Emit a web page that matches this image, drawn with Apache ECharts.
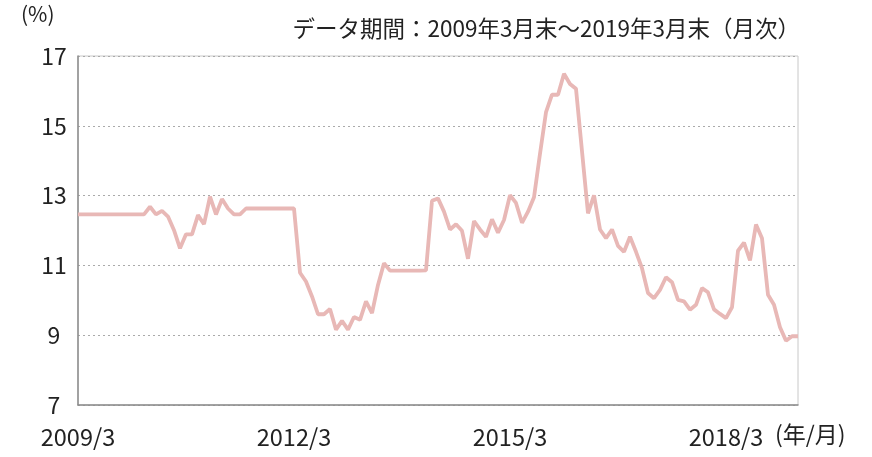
<!DOCTYPE html>
<html>
<head>
<meta charset="utf-8">
<script src="https://cdn.jsdelivr.net/npm/echarts@6/dist/echarts.min.js"></script>
<style>
  html, body { margin: 0; padding: 0; background: #fff; }
  #chart { width: 872px; height: 457px; }
</style>
</head>
<body>
<div id="chart"></div>
<script>
// 月次データ 2009/3 ～ 2019/3
const startYear = 2009;
const startMonth = 3;
const values = [
  12.46, 12.46, 12.46, 12.46, 12.46, 12.46, 12.46, 12.46, 12.46, 12.46, 12.46, 12.46, // 2009/3-
  12.68, 12.46, 12.56, 12.40, 12.01, 11.49, 11.89, 11.89, 12.44, 12.18, 12.97, 12.46, // 2010/3-
  12.90, 12.63, 12.46, 12.46, 12.63, 12.63, 12.63, 12.63, 12.63, 12.63, 12.63, 12.63, // 2011/3-
  12.63, 10.79, 10.54, 10.11, 9.60, 9.60, 9.75, 9.16, 9.41, 9.16, 9.52, 9.44,        // 2012/3-
  9.97, 9.63, 10.44, 11.06, 10.85, 10.85, 10.85, 10.85, 10.85, 10.85, 10.86, 12.85,  // 2013/3-
  12.92, 12.54, 12.03, 12.18, 11.99, 11.19, 12.27, 12.03, 11.82, 12.32, 11.94, 12.30, // 2014/3-
  13.01, 12.79, 12.22, 12.54, 12.95, 14.20, 15.39, 15.89, 15.89, 16.49, 16.20, 16.06, // 2015/3-
  14.27, 12.49, 13.01, 12.03, 11.78, 12.03, 11.56, 11.39, 11.82, 11.39, 10.92, 10.21, // 2016/3-
  10.06, 10.30, 10.66, 10.52, 10.01, 9.97, 9.73, 9.87, 10.35, 10.23, 9.74, 9.61,     // 2017/3-
  9.49, 9.80, 11.42, 11.65, 11.14, 12.17, 11.78, 10.16, 9.87, 9.23, 8.84, 8.97,       // 2018/3-
  8.97                                                                                // 2019/3
];
const tickLabels = ['2009/3', '2012/3', '2015/3', '2018/3'];
const yTicks = { min: 7, max: 17, interval: 2 };

const months = values.map((_, i) => {
  const m = startMonth - 1 + i;
  return (startYear + Math.floor(m / 12)) + '/' + (m % 12 + 1);
});

const font = '"Noto Sans CJK JP", "Noto Sans", sans-serif';
const chart = echarts.init(document.getElementById('chart'));

chart.setOption({
  animation: false,
  textStyle: { fontFamily: font },
  grid: {
    left: 78, right: 74, top: 56, bottom: 52,
    show: true, borderColor: '#c8c8c8', borderWidth: 1
  },
  graphic: [
    { type: 'text', left: 21, top: 4, style: { text: '(%)', font: '21px ' + font, fill: '#222' } },
    { type: 'text', right: 72, top: 17, style: { text: 'データ期間：2009年3月末～2019年3月末（月次）', font: '22.5px ' + font, fill: '#222' } },
    { type: 'text', left: 775, top: 423, style: { text: '(年/月)', font: '23px ' + font, fill: '#222' } }
  ],
  xAxis: {
    type: 'category',
    data: months,
    boundaryGap: false,
    axisLine: { lineStyle: { color: '#8c8c8c', width: 1.5 } },
    axisTick: { show: false },
    axisLabel: {
      interval: (i, v) => tickLabels.includes(v),
      margin: 20, fontSize: 23.5, color: '#222'
    },
    splitLine: { show: false }
  },
  yAxis: {
    type: 'value',
    min: yTicks.min, max: yTicks.max, interval: yTicks.interval,
    axisLine: { show: true, lineStyle: { color: '#8c8c8c', width: 1.5 } },
    axisTick: { show: false },
    axisLabel: { fontSize: 23, color: '#222', align: 'center', margin: 24 },
    splitLine: { lineStyle: { color: '#aaa', type: [2, 3], width: 1.2 } }
  },
  series: [{
    type: 'line',
    data: values,
    symbol: 'none',
    lineStyle: { color: '#e8b8b6', width: 3.8 },
    z: 3
  }]
});
</script>
</body>
</html>
